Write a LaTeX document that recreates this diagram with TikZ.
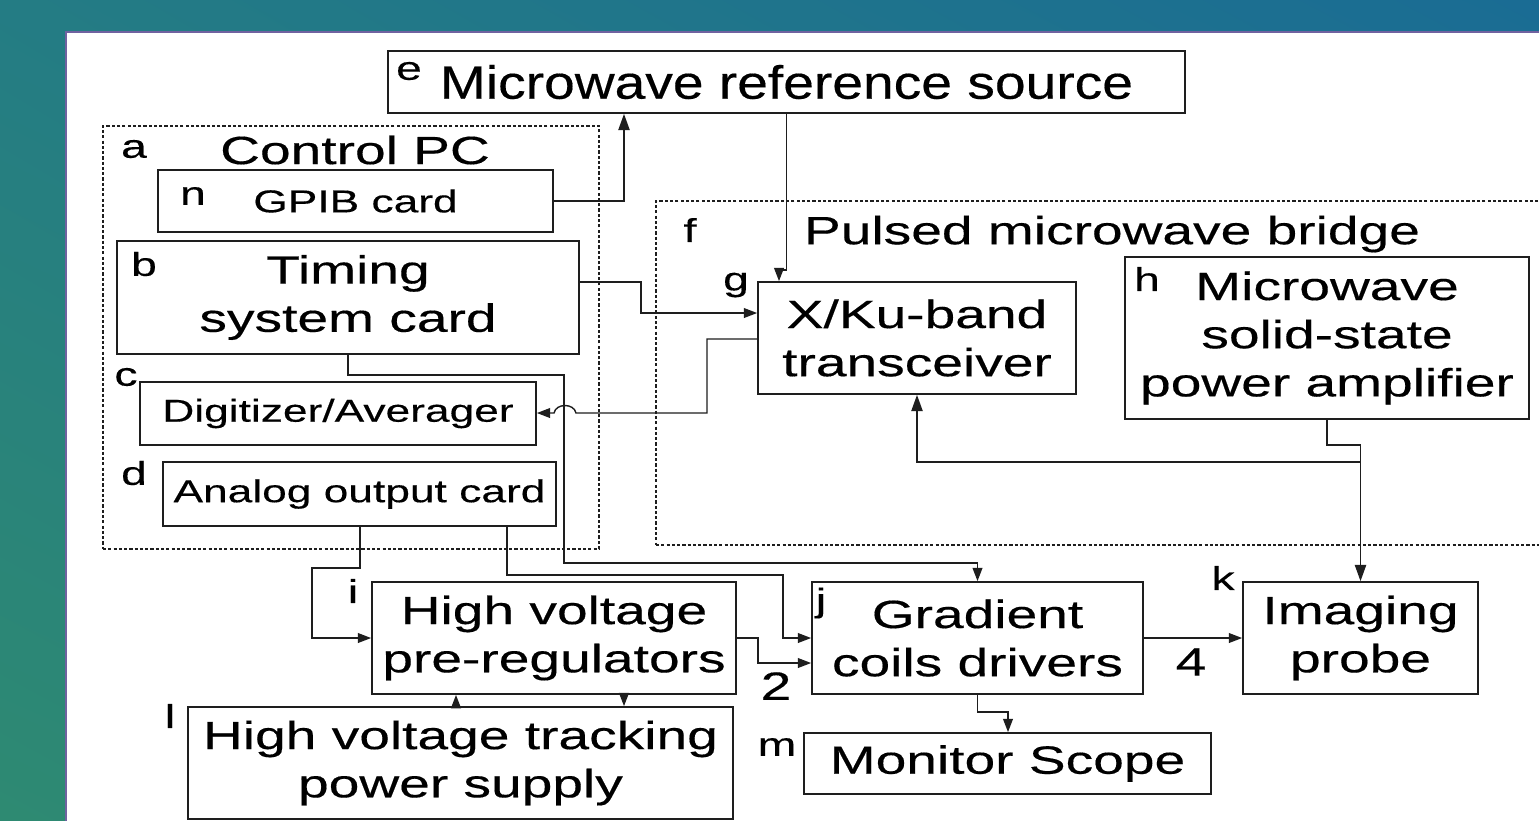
\documentclass[tikz,border=0pt]{standalone}
\usepackage{fontspec}
\setmainfont{Liberation Sans}[FakeStretch=1.4, FakeBold=0.35]
\newfontfamily\reffont{Liberation Sans}[FakeStretch=1.18, FakeBold=0.35]
\usetikzlibrary{positioning}
\usetikzlibrary{calc}
\usetikzlibrary{arrows.meta}
\usetikzlibrary{shadings}
\definecolor{bgtl}{RGB}{36,124,132}
\definecolor{bgtr}{RGB}{26,108,148}
\definecolor{bgbl}{RGB}{46,138,114}
\definecolor{bgbr}{RGB}{38,124,130}
\definecolor{rim}{RGB}{112,98,160}
\definecolor{ink}{RGB}{30,30,30}
\newcommand{\bigf}{\fontsize{11.2}{13.7}\selectfont}
\newcommand{\smallf}{\fontsize{9}{11}\selectfont}
\newcommand{\lblf}{\fontsize{9.4}{11}\selectfont}

\begin{document}
\begin{tikzpicture}[x=0.01cm, y=-0.01cm,
    blk/.style 2 args={draw=ink, line width=0.5pt, inner sep=0pt, align=center, font=\bigf,
        minimum width=#1*0.01cm, minimum height=#2*0.01cm},
    grp/.style 2 args={draw=ink, line width=0.4pt, dash pattern=on 0.9pt off 0.6pt, inner sep=0pt,
        minimum width=#1*0.01cm, minimum height=#2*0.01cm},
    lbl/.style={inner sep=0pt, font=\lblf},
    ttl/.style={inner sep=0pt, font=\bigf},
    wire/.style={draw=ink, line width=0.4pt},
    arr/.style={wire, -{Triangle[length=3.8pt, width=2.8pt]}},
    bigarr/.style={wire, -{Triangle[length=4.6pt, width=3.2pt]}}]
    \useasboundingbox (0,0) rectangle (1539,820);
    \clip (0,0) rectangle (1539,820);
    \shade[upper left=bgtl, upper right=bgtr, lower left=bgbl, lower right=bgbr] (0,0) rectangle (1539,820);
    \fill[white] (66,32) rectangle (1560,840);
    \draw[rim, line width=0.6pt] (66,840) -- (66,32) -- (1560,32);

    % groups
    \node[grp={496}{423}] (pc) at (351,337.5) {};
    \node[grp={910}{344}] (bridge) at (1111,373) {};
    \node[ttl] (pctitle) at (355,150) {Control PC};
    \node[ttl] (bridgetitle) at (1112,234) {Pulsed microwave bridge};

    % blocks
    \node[blk={797}{62}, font=\reffont\fontsize{13.3}{16}\selectfont] (mwref) at (786.5,82) {Microwave reference source};
    \node[blk={395}{62}, font=\smallf] (gpib) at (355.5,201) {GPIB card};
    \node[blk={462}{113}] (timing) at (348,297.5) {Timing\\system card};
    \node[blk={396}{63}, font=\smallf] (digit) at (338,413.5) {Digitizer/Averager};
    \node[blk={393}{64}, font=\smallf] (analog) at (359.5,494) {Analog output card};
    \node[blk={318}{112}] (xcvr) at (917,338) {X/Ku-band\\transceiver};
    \node[blk={404}{162}] (amp) at (1327,338) {Microwave\\solid-state\\power amplifier};
    \node[blk={364}{112}] (hvpre) at (554,638) {High voltage\\pre-regulators};
    \node[blk={331}{112}] (grad) at (977.5,638) {Gradient\\coils drivers};
    \node[blk={235}{112}] (probe) at (1360.5,638) {Imaging\\probe};
    \node[blk={545}{112}] (hvps) at (460.5,763) {High voltage tracking\\power supply};
    \node[blk={407}{61}] (scope) at (1007.5,763.5) {Monitor Scope};

    \foreach \lt/\x/\y in {a/134/149, b/144/264, c/126/377, d/134/473, e/409/71, f/690/230, g/736/285,
        h/1147/279, i/353/591, j/821/603, k/1223/578, l/170/716, m/777/747, n/193/196} {
        \node[lbl] (lbl\lt) at (\x,\y) {\lt};
    }

    % connections
    \draw[bigarr] (gpib.east) -| (624,0 |- mwref.south);
    \draw[arr] (mwref.south) -- (mwref.south |- 0,270) -| (779,0 |- xcvr.north);
    \draw[arr] (timing.east |- 0,282) -| (641,313) -- (xcvr.west |- 0,313);
    \draw[arr] (xcvr.west |- 0,339) -| (707,413) -- (576,413) .. controls (574,403) and (556,403) .. (554,413) -- (digit.east |- 0,413);
    \draw[arr] (timing.south) |- (564,375) |- (grad.north |- 0,563) -- (grad.north);
    \draw[arr] (360,0 |- analog.south) |- (312,568) |- (hvpre.west);
    \draw[arr] (507,0 |- analog.south) |- (783,575) |- (grad.west);
    \draw[arr] (hvpre.east) -- (758,0 |- hvpre.east) |- (grad.west |- 0,663);
    \node[ttl] (two) at (776,686) {2};
    \draw[arr] (grad.east) -- (probe.west);
    \node[ttl] (four) at (1191,662) {4};
    \draw[arr] (grad.south) |- (1008,712) -- (1008,0 |- scope.north);
    \draw[bigarr] (amp.south) |- (probe.north |- 0,445) -- (probe.north);
    \draw[bigarr] (probe.north |- 0,462) -| (xcvr.south);
    \draw[arr] (456,0 |- hvps.north) -- (456,0 |- hvpre.south);
    \draw[arr] (624,0 |- hvpre.south) -- (624,0 |- hvps.north);
\end{tikzpicture}
\end{document}
